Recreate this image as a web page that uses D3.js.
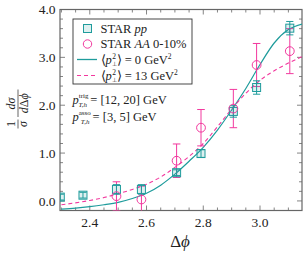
<!DOCTYPE html>
<html><head><meta charset="utf-8">
<script src="https://cdn.jsdelivr.net/npm/d3@7"></script>
<style>
html,body{margin:0;padding:0;background:#fff;}
svg{display:block;}
text{font-family:"Liberation Serif","Times New Roman",serif;fill:#222;}
</style></head>
<body>
<script>
// ---- data ----
const ppX   = [2.296, 2.376, 2.494, 2.582, 2.706, 2.792, 2.906, 2.988, 3.105];
const ppY   = [0.08, 0.12, 0.24, 0.24, 0.59, 0.99, 1.87, 2.37, 3.61];
const ppErr = [0.06, 0.06, 0.10, 0.10, 0.06, 0.08, 0.12, 0.14, 0.14];

const aaX   = [2.494, 2.582, 2.706, 2.792, 2.906, 2.988, 3.105];
const aaY   = [0.10, 0.03, 0.84, 1.53, 1.93, 2.84, 3.13];
const aaErr = [0.30, 0.28, 0.35, 0.38, 0.40, 0.45, 0.47];

const curveX  = [2.30,2.35,2.40,2.45,2.50,2.55,2.60,2.65,2.70,2.75,2.80,2.85,2.90,2.95,3.00,3.05,3.10,3.15];
const curve0  = [-0.17,-0.15,-0.12,-0.08,-0.03,0.05,0.16,0.33,0.56,0.83,1.12,1.48,1.90,2.35,2.85,3.30,3.58,3.70];
const curve13 = [-0.08,-0.04,0.01,0.07,0.15,0.24,0.35,0.50,0.70,0.93,1.20,1.55,1.92,2.25,2.52,2.72,2.88,3.02];

const xTicks = [2.4, 2.6, 2.8, 3.0];
const yTicks = [0, 1, 2, 3, 4];

// ---- layout ----
const W = 303, H = 254;
const L = 60, R = 302, T = 9.5, B = 210.5;
const teal = "#1f9c9c", pink = "#f2389e", axisCol = "#666";

const svg = d3.select("body").append("svg").attr("width", W).attr("height", H);
const x = d3.scaleLinear().domain([2.295, 3.148]).range([L, R]);
const y = d3.scaleLinear().domain([-0.2, 4.0]).range([B, T]);

svg.append("defs").append("clipPath").attr("id","clip")
  .append("rect").attr("x", L).attr("y", T).attr("width", R-L).attr("height", B-T);

// ticks (inside, on all sides)
const minorX = d3.range(2.30, 3.1501, 0.05).map(v => +v.toFixed(2));
const minorY = d3.range(-0.2, 4.001, 0.2).map(v => +v.toFixed(1));
const g = svg.append("g");
function tickLen(v, majors){ return majors.some(m => Math.abs(m - v) < 1e-6) ? 5 : 3; }
minorX.forEach(v => {
  const len = tickLen(v, xTicks), px = x(v);
  if (px < L || px > R) return;
  g.append("line").attr("x1",px).attr("x2",px).attr("y1",B).attr("y2",B-len).attr("stroke",axisCol).attr("stroke-width",0.8);
  g.append("line").attr("x1",px).attr("x2",px).attr("y1",T).attr("y2",T+len).attr("stroke",axisCol).attr("stroke-width",0.8);
});
minorY.forEach(v => {
  const len = tickLen(v, yTicks), py = y(v);
  g.append("line").attr("x1",L).attr("x2",L+len).attr("y1",py).attr("y2",py).attr("stroke",axisCol).attr("stroke-width",0.8);
  g.append("line").attr("x1",R).attr("x2",R-len).attr("y1",py).attr("y2",py).attr("stroke",axisCol).attr("stroke-width",0.8);
});
svg.append("rect").attr("x",L).attr("y",T).attr("width",R-L).attr("height",B-T)
  .attr("fill","none").attr("stroke",axisCol).attr("stroke-width",1.2);

// tick labels
svg.selectAll(".xl").data(xTicks).enter().append("text")
  .attr("x", d => x(d)).attr("y", 226.5).attr("text-anchor","middle")
  .attr("font-size", 13.5).text(d => d.toFixed(1));
svg.selectAll(".yl").data(yTicks).enter().append("text")
  .attr("x", 55.5).attr("y", d => y(d) + 4.6).attr("text-anchor","end")
  .attr("font-size", 13.5).text(d => d.toFixed(1));

// x label
svg.append("text").attr("x", 180).attr("y", 247).attr("text-anchor","middle")
  .attr("font-size", 17).html('Δ<tspan font-style="italic">ϕ</tspan>');

// y label (rotated fraction)
const yl = svg.append("g").attr("transform","translate(18,109) rotate(-90)");
yl.append("text").attr("x",-15).attr("y",-3).attr("text-anchor","middle").attr("font-size",12).text("1");
yl.append("line").attr("x1",-19.5).attr("x2",-10.5).attr("y1",0).attr("y2",0).attr("stroke","#222").attr("stroke-width",0.7);
yl.append("text").attr("x",-15).attr("y",9).attr("text-anchor","middle").attr("font-size",12).attr("font-style","italic").text("σ");
yl.append("text").attr("x",5.5).attr("y",-3).attr("text-anchor","middle").attr("font-size",12).attr("font-style","italic").text("dσ");
yl.append("line").attr("x1",-8).attr("x2",19.5).attr("y1",0).attr("y2",0).attr("stroke","#222").attr("stroke-width",0.7);
yl.append("text").attr("x",5.8).attr("y",9.5).attr("text-anchor","middle").attr("font-size",12)
  .html('<tspan font-style="italic">d</tspan>Δ<tspan font-style="italic">ϕ</tspan>');

// curves
const plot = svg.append("g").attr("clip-path","url(#clip)");
const line = d3.line().curve(d3.curveMonotoneX);
plot.append("path").attr("d", line(curveX.map((v,i)=>[x(v), y(curve0[i])])))
  .attr("fill","none").attr("stroke",teal).attr("stroke-width",1.2);
plot.append("path").attr("d", line(curveX.map((v,i)=>[x(v), y(curve13[i])])))
  .attr("fill","none").attr("stroke",pink).attr("stroke-width",1.1).attr("stroke-dasharray","4,3");

// error bars
function errBars(xs, ys, es, col, cap){
  xs.forEach((xv,i) => {
    const px = x(xv), y1 = y(ys[i]-es[i]), y2 = y(ys[i]+es[i]);
    plot.append("line").attr("x1",px).attr("x2",px).attr("y1",y1).attr("y2",y2).attr("stroke",col).attr("stroke-width",1);
    [y1,y2].forEach(yy => plot.append("line").attr("x1",px-cap).attr("x2",px+cap).attr("y1",yy).attr("y2",yy).attr("stroke",col).attr("stroke-width",1));
  });
}
errBars(aaX, aaY, aaErr, pink, 3.8);
errBars(ppX, ppY, ppErr, teal, 3.6);

// markers
ppX.forEach((xv,i) => {
  plot.append("rect").attr("x", x(xv)-4).attr("y", y(ppY[i])-4).attr("width",8).attr("height",8)
    .attr("fill","rgba(31,156,156,0.15)").attr("stroke",teal).attr("stroke-width",1);
});
aaX.forEach((xv,i) => {
  plot.append("circle").attr("cx", x(xv)).attr("cy", y(aaY[i])).attr("r",4.4)
    .attr("fill","none").attr("stroke",pink).attr("stroke-width",1);
});

// legend
const lg = svg.append("g");
lg.append("rect").attr("x",73).attr("y",19).attr("width",119).attr("height",65)
  .attr("fill","#fff").attr("stroke","#333").attr("stroke-width",0.9);
const rows = [28.5, 44, 59.5, 75.5];
lg.append("rect").attr("x",83.5).attr("y",rows[0]-4).attr("width",8).attr("height",8)
  .attr("fill","rgba(31,156,156,0.15)").attr("stroke",teal);
lg.append("circle").attr("cx",87.5).attr("cy",rows[1]).attr("r",4.2).attr("fill","none").attr("stroke",pink);
lg.append("line").attr("x1",77).attr("x2",97).attr("y1",rows[2]).attr("y2",rows[2]).attr("stroke",teal).attr("stroke-width",1.3);
lg.append("line").attr("x1",77).attr("x2",97).attr("y1",rows[3]).attr("y2",rows[3]).attr("stroke",pink).attr("stroke-width",1.1).attr("stroke-dasharray","4,3");
const fs = 12.5;
lg.append("text").attr("x",100.5).attr("y",rows[0]+4.2).attr("font-size",fs)
  .html('STAR <tspan font-style="italic">pp</tspan>');
lg.append("text").attr("x",100.5).attr("y",rows[1]+4.2).attr("font-size",fs)
  .html('STAR <tspan font-style="italic">AA</tspan> 0-10%');
function pperp(val, yy){
  const base = yy + 4.2;
  const t = lg.append("text").attr("x",100.5).attr("y",base).attr("font-size",fs);
  t.append("tspan").text("⟨");
  t.append("tspan").attr("font-style","italic").text("p");
  t.append("tspan").attr("font-size",6).attr("dy",2.4).text("⊥");
  t.append("tspan").attr("font-size",7.5).attr("dx",-4.6).attr("dy",-6.9).text("2");
  t.append("tspan").attr("dx",0.6).attr("dy",4.5).text("⟩ = " + val + " GeV");
  t.append("tspan").attr("font-size",7.5).attr("dy",-4.5).text("2");
}
pperp("0", rows[2]);
pperp("13", rows[3]);

// annotation
function ann(sup, rest, yy){
  svg.append("text").attr("x",72.5).attr("y",yy).attr("font-size",fs)
    .html('<tspan font-style="italic">p</tspan><tspan font-size="7" dy="-5.5">' + sup + '</tspan><tspan font-size="7" font-style="italic" dx="-' + (sup.length*2.5).toFixed(1) + '" dy="9">T,h</tspan><tspan dy="-3.5"> = ' + rest + ' GeV</tspan>');
}
ann("trig", "[12, 20]", 103.5);
ann("asso", "[3, 5]", 120.5);
</script>
</body></html>
